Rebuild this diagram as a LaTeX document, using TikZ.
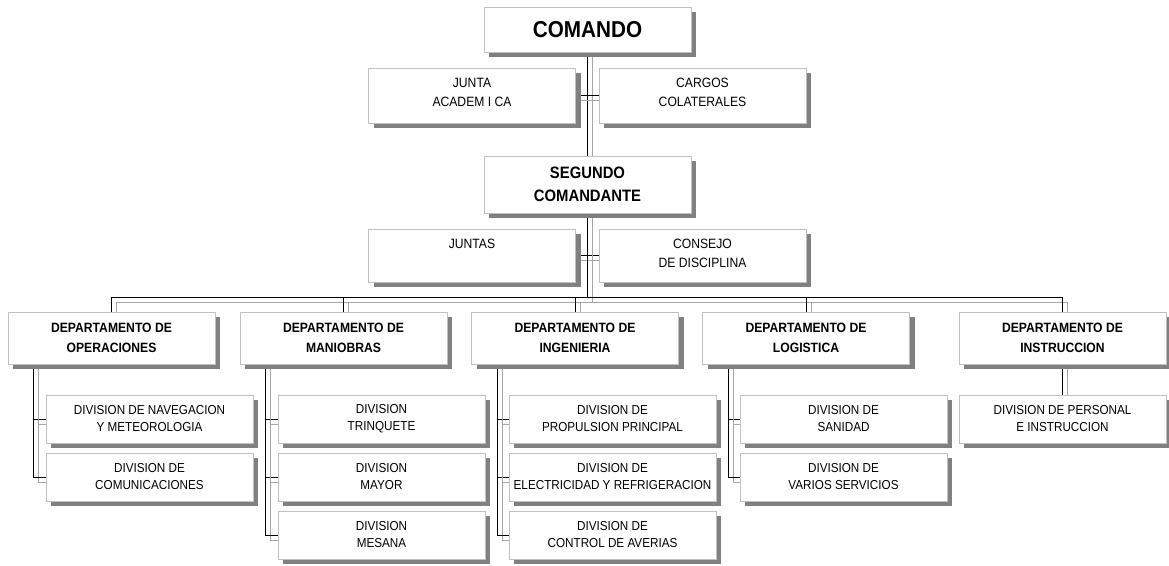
\documentclass[tikz,border=0pt]{standalone}
\usepackage{fontspec}
\setmainfont{Liberation Sans}[FakeStretch=0.9]
\usetikzlibrary{shadows}
\definecolor{boxborder}{HTML}{C0C0C0}
\definecolor{boxshadow}{HTML}{808080}
\definecolor{lineshadow}{HTML}{A6A6A6}
\pgfdeclarelayer{bg}
\pgfsetlayers{bg,main}
\newcommand\linkpath[1]{\draw[connsh] #1; \draw[conn] #1;}
\tikzset{
  boxbase/.style={draw=boxborder, line width=0.8pt, fill=white, inner sep=0pt, align=center,
    minimum width=207pt,
    drop shadow={shadow xshift=5pt, shadow yshift=-5pt, fill=boxshadow, opacity=1}},
  topbox/.style={boxbase, minimum height=45pt, font=\fontsize{23}{27}\selectfont\bfseries},
  segbox/.style={boxbase, minimum height=57pt, font=\fontsize{16.5}{23}\selectfont\bfseries},
  sidebox/.style={boxbase, minimum height=55pt},
  sidetxt/.style={anchor=north, inner sep=0pt, align=center, font=\fontsize{13.5}{19}\selectfont},
  deptbox/.style={boxbase, minimum height=52pt, font=\fontsize{13.5}{20}\selectfont\bfseries},
  subbox/.style={boxbase, minimum height=48pt, font=\fontsize{13}{17}\selectfont},
  conn/.style={line width=0.9pt, black},
  connsh/.style={line width=0.9pt, lineshadow, transform canvas={xshift=5pt, yshift=-5pt}},
}
\begin{document}
\begin{tikzpicture}[x=1pt, y=-1pt]
\useasboundingbox (0,0) rectangle (1169,565);
% top
\node[topbox] (cmd) at (587.5,29.5) {COMANDO};
\node[sidebox] (ja) at (472,95.5) {};
\node[sidetxt] (jaT) at ([yshift=-10pt]ja.north) {JUNTA\\ACADEM I CA};
\node[sidebox] (cc) at (702.5,95.5) {};
\node[sidetxt] (ccT) at ([yshift=-10pt]cc.north) {CARGOS\\COLATERALES};
\node[segbox] (seg) at (587.5,184.5) {SEGUNDO\\COMANDANTE};
\node[sidebox, minimum height=53pt] (jt) at (472,255.5) {};
\node[sidetxt] (jtT) at ([yshift=-10pt]jt.north) {JUNTAS};
\node[sidebox, minimum height=53pt] (cd) at (702.5,255.5) {};
\node[sidetxt] (cdT) at ([yshift=-10pt]cd.north) {CONSEJO\\DE DISCIPLINA};
\coordinate (bus) at (587.5,297);
% departments
\node[deptbox] (op) at (111.5,338) {DEPARTAMENTO DE\\OPERACIONES};
\node[deptbox] (ma) at (343.5,338) {DEPARTAMENTO DE\\MANIOBRAS};
\node[deptbox] (in) at (575,338) {DEPARTAMENTO DE\\INGENIERIA};
\node[deptbox] (lo) at (806,338) {DEPARTAMENTO DE\\LOGISTICA};
\node[deptbox] (ins) at (1062.5,338) {DEPARTAMENTO DE\\INSTRUCCION};
% divisions
\node[subbox] (op1) at (149.5,419) {DIVISION DE NAVEGACION\\Y METEOROLOGIA};
\node[subbox] (op2) at (149.5,477) {DIVISION DE\\COMUNICACIONES};
\node[subbox] (ma1) at (381.5,419) {DIVISION\\TRINQUETE};
\node[subbox] (ma2) at (381.5,477) {DIVISION\\MAYOR};
\node[subbox] (ma3) at (381.5,535) {DIVISION\\MESANA};
\node[subbox] (in1) at (612.5,419) {DIVISION DE\\PROPULSION PRINCIPAL};
\node[subbox] (in2) at (612.5,477) {DIVISION DE\\ELECTRICIDAD Y REFRIGERACION};
\node[subbox] (in3) at (612.5,535) {DIVISION DE\\CONTROL DE AVERIAS};
\node[subbox] (lo1) at (843.5,419) {DIVISION DE\\SANIDAD};
\node[subbox] (lo2) at (843.5,477) {DIVISION DE\\VARIOS SERVICIOS};
\node[subbox] (ins1) at (1062.5,419) {DIVISION DE PERSONAL\\E INSTRUCCION};
% spines
\coordinate (opS) at ([xshift=26pt]op.south west);
\coordinate (maS) at ([xshift=26pt]ma.south west);
\coordinate (inS) at ([xshift=26pt]in.south west);
\coordinate (loS) at ([xshift=26pt]lo.south west);
\begin{pgfonlayer}{bg}
\linkpath{(cmd.south) -- (seg.north)}
\linkpath{(ja.east) -- (cc.west)}
\linkpath{(jt.east) -- (cd.west)}
\linkpath{(seg.south) -- (bus)}
\linkpath{(op.north |- bus) -- (ins.north |- bus)}
\linkpath{(op.north |- bus) -- (op.north)}
\linkpath{(ma.north |- bus) -- (ma.north)}
\linkpath{(in.north |- bus) -- (in.north)}
\linkpath{(lo.north |- bus) -- (lo.north)}
\linkpath{(ins.north |- bus) -- (ins.north)}
\linkpath{(opS) |- (op1.west)}
\linkpath{(opS) |- (op2.west)}
\linkpath{(maS) |- (ma1.west)}
\linkpath{(maS) |- (ma2.west)}
\linkpath{(maS) |- (ma3.west)}
\linkpath{(inS) |- (in1.west)}
\linkpath{(inS) |- (in2.west)}
\linkpath{(inS) |- (in3.west)}
\linkpath{(loS) |- (lo1.west)}
\linkpath{(loS) |- (lo2.west)}
\linkpath{(ins.south) -- (ins1.north)}
\end{pgfonlayer}
\end{tikzpicture}
\end{document}
